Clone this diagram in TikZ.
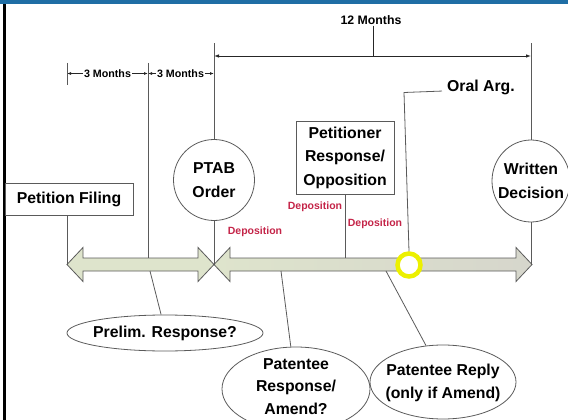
\documentclass[tikz,border=0pt]{standalone}
\usepackage{fontspec}
\setmainfont{Liberation Sans}
\usetikzlibrary{arrows.meta,shapes.geometric}
\definecolor{bandblue}{RGB}{31,110,165}
\definecolor{depred}{RGB}{196,36,72}
\definecolor{olivefill}{RGB}{222,228,204}
\definecolor{grayfill}{RGB}{214,214,204}
\definecolor{ringyellow}{RGB}{236,240,0}
\definecolor{linegray}{RGB}{90,90,90}
\begin{document}
\begin{tikzpicture}[x=1pt,y=-1pt,
  lbl/.style={font=\fontsize{15.8}{23.5}\selectfont\bfseries, align=center, inner sep=0pt},
  smalllbl/.style={font=\fontsize{10.7}{12}\selectfont\bfseries, inner sep=1pt},
  dep/.style={font=\fontsize{10.5}{12}\selectfont\bfseries, text=depred, inner sep=0pt},
  conn/.style={draw=linegray, line width=0.8pt},
  dim/.style={draw=black!85, line width=0.8pt},
  tipsm/.style={-{Latex[length=4pt,width=3pt]}},
  boxn/.style={lbl, draw=linegray, line width=0.8pt, rectangle},
  shapen/.style={draw=linegray, line width=0.8pt, inner sep=0pt},
  blockarrow/.style={draw=linegray, line width=0.8pt}
]
\useasboundingbox (0,0) rectangle (568,420);
\fill[bandblue] (0,0) rectangle (568,4);
\fill[black] (3,4) rectangle (6,420);

% block arrows
\filldraw[blockarrow, fill=olivefill]
  (67,264.5) -- (83,247.5) -- (83,258) -- (198,258) -- (198,247.5) -- (214,264.5)
  -- (198,281.5) -- (198,271) -- (83,271) -- (83,281.5) -- cycle;
\draw[blockarrow, left color=olivefill, right color=grayfill]
  (214,264.5) -- (230,247.5) -- (230,258) -- (516,258) -- (516,247.5) -- (532,264.5)
  -- (516,281.5) -- (516,271) -- (230,271) -- (230,281.5) -- cycle;

% coordinates on the arrows
\coordinate (a1L) at (67,264.5);
\coordinate (jn) at (214,264.5);
\coordinate (a2R) at (531,264.5);
\coordinate (mid3) at (148,258);
\coordinate (pa) at (345,258);
\coordinate (b1) at (150,271);
\coordinate (b2) at (281,271);
\coordinate (b3) at (386,271);

% nodes
\node[boxn, minimum width=128pt, minimum height=32pt] (filing) at (69,199) {Petition Filing};
\node[shapen, circle, minimum size=81pt] (ptab) at (214,180) {};
\node[lbl] at (ptab) {PTAB\\Order};
\node[shapen, ellipse, minimum width=78pt, minimum height=82pt] (written) at (531,181) {};
\node[lbl] at (written) {Written\\Decision};
\node[boxn, minimum width=98pt, minimum height=73pt] (petr) at (345,157.5) {Petitioner\\Response/\\Opposition};
\node[shapen, ellipse, minimum width=196pt, minimum height=36pt] (prelim) at (165,333) {};
\node[lbl] at (prelim) {Prelim. Response?};
\node[shapen, ellipse, minimum width=148pt, minimum height=84pt] (presp) at (296,389) {};
\node[lbl, font=\fontsize{15.8}{22.5}\selectfont\bfseries] at ([yshift=2.5pt]presp) {Patentee\\Response/\\Amend?};
\node[shapen, ellipse, minimum width=146pt, minimum height=74pt] (preply) at (443,382) {};
\node[lbl] at ([yshift=-1pt]preply) {Patentee Reply\\(only if Amend)};

% top dimensions
\coordinate (v12L) at (214,43);
\coordinate (v12R) at (531,43);
\coordinate (d12L) at (214,56);
\coordinate (d12R) at (531,56);
\node[font=\fontsize{12.3}{14}\selectfont\bfseries, inner sep=1pt] (m12) at (371,20) {12 Months};
\draw[dim] (m12.south -| 373,0) -- (373,56);
\draw[dim, {Latex[length=5pt,width=3.5pt]}-{Latex[length=5pt,width=3.5pt]}] (d12L) -- (d12R);
\draw[conn] (ptab.north) -- (v12L);
\draw[conn] (written.north -| v12R) -- (v12R);

\coordinate (t3a) at (67,73.5);
\coordinate (t3b) at (148,73.5);
\coordinate (t3c) at (214,73.5);
\node[smalllbl] (m3a) at (107.5,73.5) {3 Months};
\node[smalllbl] (m3b) at (180.5,73.5) {3 Months};
\draw[dim, tipsm] (m3a.west) -- (t3a);
\draw[dim, tipsm] (m3a.east) -- (t3b);
\draw[dim, tipsm] (m3b.west) -- (t3b);
\draw[dim, tipsm] (m3b.east) -- (t3c);
\draw[conn] (67,63) -- (67,85);
\draw[conn] (148,63) -- (mid3);

% connectors to the arrows
\draw[conn] (a1L |- filing.south) -- (a1L);
\draw[conn] (ptab.south) -- (jn);
\draw[conn] (written.south -| a2R) -- (a2R);
\draw[conn] (petr.south) -- (pa);
\draw[conn] (b1) -- (prelim.102);
\draw[conn] (b2) -- (presp.97);
\draw[conn] (b3) -- (preply.115);

% deposition labels
\node[dep] (dep1) at (255,232) {Deposition};
\node[dep] (dep2) at (315,207) {Deposition};
\node[dep] (dep3) at (375,224) {Deposition};

% oral argument
\node[circle, draw=ringyellow, line width=4.5pt, fill=white, minimum size=23pt, inner sep=0pt] (yc) at (409,265) {};
\node[lbl] (oral) at (481,87) {Oral Arg.};
\draw[conn] ([xshift=-5pt]oral.base west) -- (404,92.5) -- (yc.north);
\end{tikzpicture}
\end{document}
